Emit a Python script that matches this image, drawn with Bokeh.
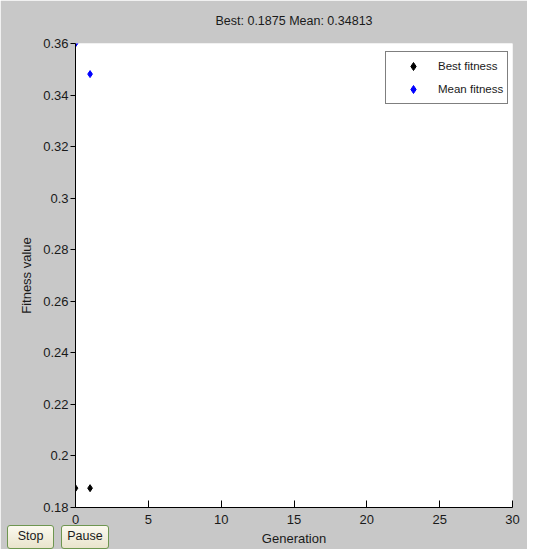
from bokeh.plotting import figure
from bokeh.layouts import column
from bokeh.models import (FixedTicker, CustomJSTickFormatter, Legend,
                          LegendItem, Range1d, Div, Title)
from bokeh.embed import file_html
from bokeh.resources import INLINE

# ---- data ----
generations = [0, 1]
best_fitness = [0.1875, 0.1875]
mean_fitness = [0.36, 0.34813]
x_ticks = [0, 5, 10, 15, 20, 25, 30]
y_ticks = [0.18, 0.20, 0.22, 0.24, 0.26, 0.28, 0.30, 0.32, 0.34, 0.36]
title_text = "Best: 0.1875 Mean: 0.34813"
series_names = ["Best fitness", "Mean fitness"]
button_labels = ["Stop", "Pause"]

FONT = "Liberation Sans"
GRAY = "#c8c8c8"
TXT = "#1a1a1a"
W, H = 527, 549

p = figure(width=W, height=H, output_backend="svg", toolbar_location=None,
           x_range=Range1d(0, 30), y_range=Range1d(0.18, 0.36),
           min_border_left=75, min_border_right=W - 512, min_border_top=43,
           min_border_bottom=H - 507, title=title_text)

p.background_fill_color = "white"
p.border_fill_color = GRAY
p.outline_line_color = None
p.xgrid.visible = False
p.ygrid.visible = False

p.title.align = "center"
p.title.text_font = FONT
p.title.text_font_size = "12.5px"
p.title.text_font_style = "normal"
p.title.text_color = TXT
p.title.standoff = 0
# blank spacer between the title and the plot frame
p.add_layout(Title(text="\u00a0", text_font=FONT, text_font_size="12.5px",
                   standoff=0), "above")

for ax in (p.xaxis[0], p.yaxis[0]):
    ax.axis_line_color = "black"
    ax.major_tick_line_color = "black"
    ax.minor_tick_line_color = None
    ax.major_label_text_font = FONT
    ax.major_label_text_font_size = "13px"
    ax.major_label_text_color = TXT
    ax.axis_label_text_font = FONT
    ax.axis_label_text_font_size = "13px"
    ax.axis_label_text_font_style = "normal"
    ax.axis_label_text_color = TXT

p.xaxis.ticker = FixedTicker(ticks=x_ticks)
p.yaxis.ticker = FixedTicker(ticks=y_ticks)
p.yaxis.formatter = CustomJSTickFormatter(code="return (+tick.toFixed(2)).toString();")
p.xaxis.major_tick_in = 7
p.xaxis.major_tick_out = 0
p.yaxis.major_tick_in = 0
p.yaxis.major_tick_out = 5
p.xaxis.major_label_standoff = 7
p.yaxis.major_label_standoff = 2
p.xaxis.axis_label = "Generation"
p.yaxis.axis_label = "Fitness value"
p.xaxis.axis_label_standoff = 4
p.yaxis.axis_label_standoff = 6

r_best = p.scatter(generations, best_fitness, marker="diamond", size=7,
                   fill_color="black", line_color="black")
r_mean = p.scatter(generations, mean_fitness, marker="diamond", size=7,
                   fill_color="#0000ff", line_color="#0000ff")

legend = Legend(items=[LegendItem(label=series_names[0], renderers=[r_best]),
                       LegendItem(label=series_names[1], renderers=[r_mean])],
                location=(310, 403), padding=4, spacing=3, margin=0,
                label_height=20, glyph_height=20, glyph_width=46,
                label_width=60, label_standoff=2, label_text_font=FONT,
                label_text_font_size="11.5px", label_text_color=TXT,
                border_line_color="black", border_line_width=1,
                background_fill_color="white", background_fill_alpha=1)
p.add_layout(legend)

# control buttons overlaid at the lower left of the figure
btn_style = ("position:absolute;top:0;height:24px;box-sizing:border-box;"
             "border:1.5px solid #6e9650;border-radius:3px;"
             "background:linear-gradient(#fbf9ef,#e9e4cc);"
             "display:flex;align-items:center;justify-content:center;"
             "font-family:'Liberation Sans';font-size:12.5px;color:#1a1a1a;")
lefts = [0, 54]
widths = [47, 48]
html = "".join(
    f'<div style="{btn_style}left:{l}px;width:{w}px;">{t}</div>'
    for t, l, w in zip(button_labels, lefts, widths))
buttons = Div(text=f'<div style="position:relative;width:110px;height:24px;">{html}</div>',
              width=110, height=24, margin=(-24, 0, 0, 7),
              styles={"position": "relative", "z-index": "10"})

layout = column(p, buttons, spacing=0)
open("out.html", "w").write(file_html(layout, INLINE))
